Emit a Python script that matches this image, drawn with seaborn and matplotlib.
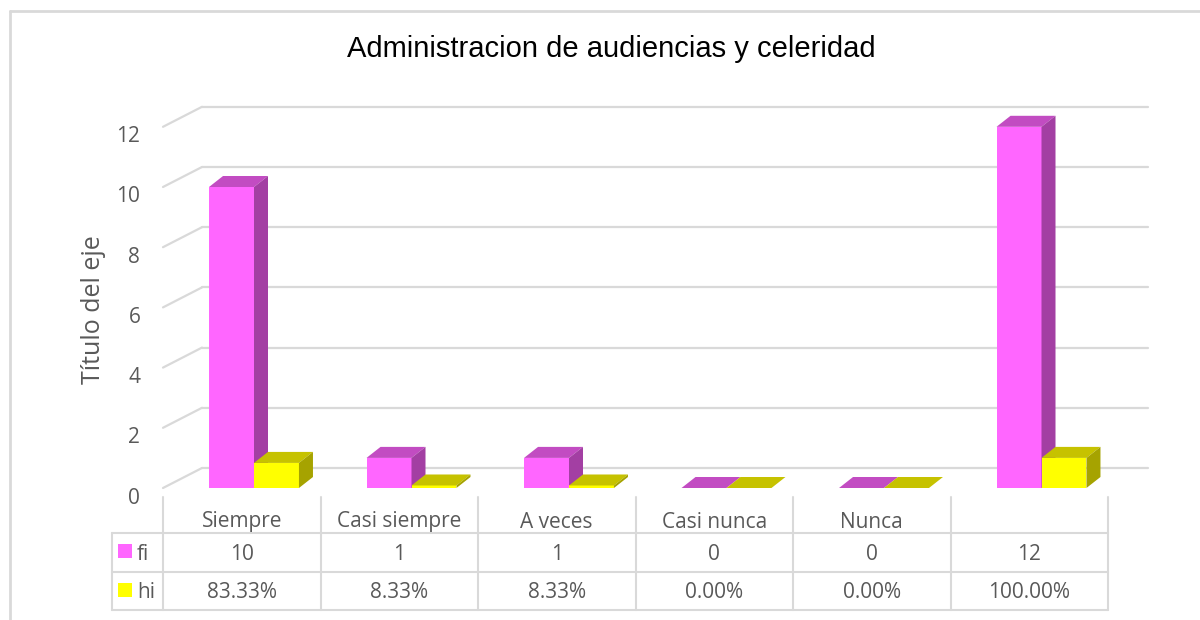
import matplotlib
matplotlib.use("Agg")
import matplotlib.pyplot as plt
import pandas as pd
import seaborn as sns
from matplotlib.patches import Polygon, Rectangle
from matplotlib.transforms import ScaledTranslation

categories = ["Siempre", "Casi siempre", "A veces", "Casi nunca", "Nunca", ""]
fi = [10, 1, 1, 0, 0, 12]
hi = [0.8333, 0.0833, 0.0833, 0.0, 0.0, 1.0]
series = ["fi", "hi"]
yticks = [0, 2, 4, 6, 8, 10, 12]

front = {"fi": "#FF66FF", "hi": "#FFFF00"}
top = {"fi": "#C24CC2", "hi": "#C6C200"}
side = {"fi": "#A33FA3", "hi": "#A6A300"}
grid_c = "#D9D9D9"
text_c = "#595959"

sns.set_theme(style="white")
plt.rcParams["font.family"] = ["Open Sans", "DejaVu Sans"]

df = pd.DataFrame({
    "cat": categories * 2,
    "serie": ["fi"] * len(fi) + ["hi"] * len(hi),
    "valor": fi + hi,
})

fig = plt.figure(figsize=(12, 6.2), dpi=100)

# background axes in pixel coordinates for frame and table
bg = fig.add_axes([0, 0, 1, 1], zorder=0)
bg.set_xlim(0, 1200)
bg.set_ylim(620, 0)
bg.axis("off")
bg.plot([10, 10], [620, 11], color=grid_c, lw=2)
bg.plot([10, 1200], [11, 11], color=grid_c, lw=2)

# main 3d-ish column axes
px_unit = 30.1
ax = fig.add_axes([163 / 1200, 1 - 488 / 620, 985 / 1200, 393 / 620], zorder=2)
ax.patch.set_alpha(0)
col_w = 157.5
x_left = (163 - 254) / col_w
x_right = (1148 - 254) / col_w

sns.barplot(data=df, x="cat", y="valor", hue="serie", order=categories,
            hue_order=series, palette=front, width=0.571, gap=0,
            saturation=1, linewidth=0, legend=False, ax=ax)
ax.set_xlim(x_left, x_right)
ax.set_ylim(0, 393 / px_unit)
ax.axis("off")

# gridlines: floor diagonal + back wall
depth_x = (202 - 163) / col_w
depth_y = 20 / px_unit
for v in yticks:
    ax.plot([x_left, x_left + depth_x], [v, v + depth_y], color=grid_c, lw=1.6,
            zorder=1, clip_on=False)
    ax.plot([x_left + depth_x, x_right], [v + depth_y, v + depth_y],
            color=grid_c, lw=1.6, zorder=1, clip_on=False)

# extrude the bars
bdx = 14 / col_w
bdy = 11 / px_unit
for k, (name, cont) in enumerate(zip(series, ax.containers)):
    z = 3 + k
    for bar in cont:
        x0 = bar.get_x()
        x1 = x0 + bar.get_width()
        h = bar.get_height()
        bar.set_zorder(z)
        ax.add_patch(Polygon([(x0, h), (x1, h), (x1 + bdx, h + bdy), (x0 + bdx, h + bdy)],
                             closed=True, facecolor=top[name], edgecolor="none",
                             zorder=z, clip_on=False))
        if h > 0:
            ax.add_patch(Polygon([(x1, 0), (x1 + bdx, bdy), (x1 + bdx, h + bdy), (x1, h)],
                                 closed=True, facecolor=side[name], edgecolor="none",
                                 zorder=z, clip_on=False))

# y tick labels
off = ScaledTranslation(0, -10 / 100, fig.dpi_scale_trans)
for v in yticks:
    ax.text(-0.023, v, str(v), transform=ax.get_yaxis_transform() + off,
            ha="right", va="center", fontsize=15, color=text_c)

fig.text(93 / 1200, 1 - 310 / 620, "Título del eje", rotation=90,
         ha="center", va="center", fontsize=18, color=text_c)
fig.text(611 / 1200, 1 - 49 / 620, "Administracion de audiencias y celeridad",
         ha="center", va="center", fontsize=21, color="#000000",
         family=["Liberation Sans", "DejaVu Sans"])

# data table
edges = [163 + col_w * i for i in range(len(categories) + 1)]
for xe in edges:
    bg.plot([xe, xe], [497, 610], color=grid_c, lw=1.5)
bg.plot([112, 112], [533, 610], color=grid_c, lw=1.5)
for ye in [533, 572, 610]:
    bg.plot([112, edges[-1]], [ye, ye], color=grid_c, lw=1.5)

rows = [
    ("fi", [str(v) for v in fi], 554),
    ("hi", [f"{v * 100:.2f}%" for v in hi], 593),
]
for i, cat in enumerate(categories):
    cx = (edges[i] + edges[i + 1]) / 2
    bg.text(cx, 522, cat, ha="center", va="center", fontsize=15, color=text_c)
    for _, vals, yy in rows:
        bg.text(cx, yy, vals[i], ha="center", va="center", fontsize=15, color=text_c)
for name, _, yy in rows:
    bg.add_patch(Rectangle((118, yy - 10), 14, 14, facecolor=front[name], edgecolor="none"))
    bg.text(137, yy, name, ha="left", va="center", fontsize=15, color=text_c)

fig.savefig("out.png", dpi=100)
